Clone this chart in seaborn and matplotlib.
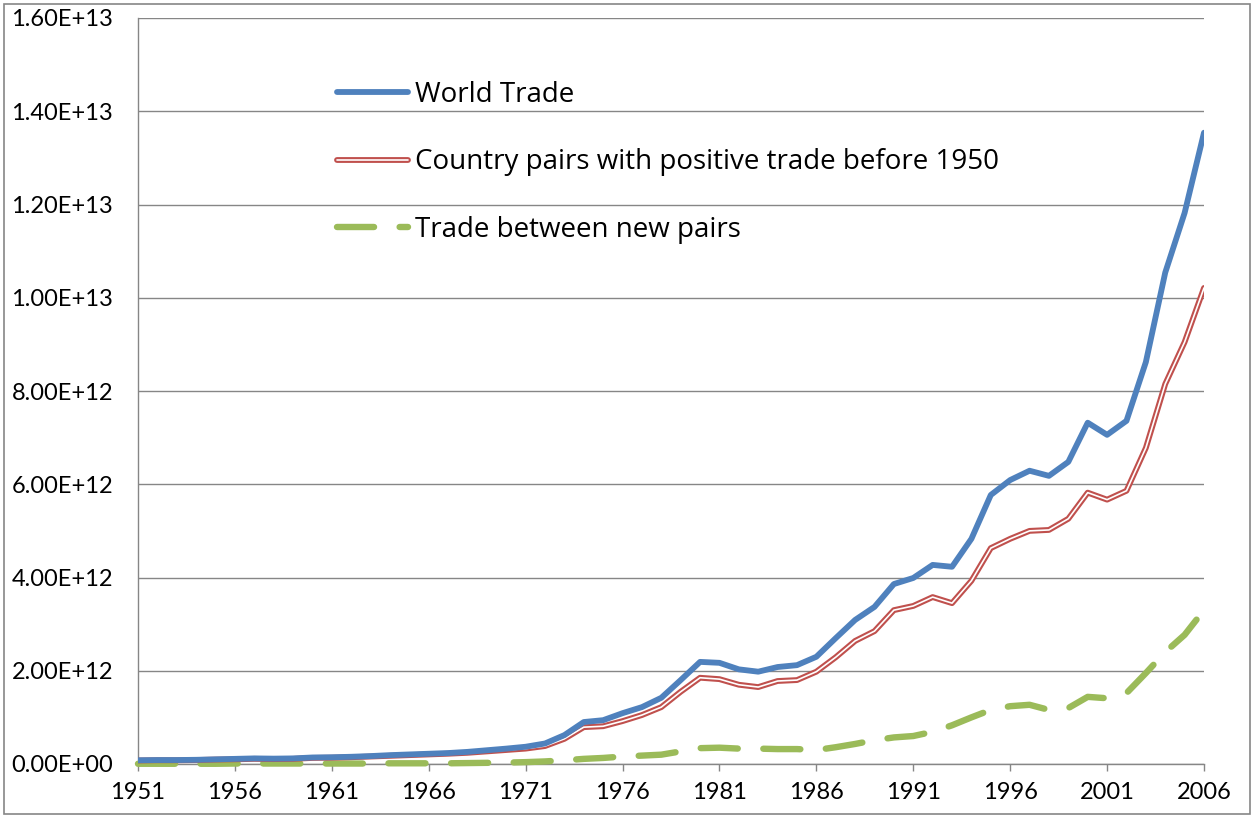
import numpy as np
import pandas as pd
import matplotlib.pyplot as plt
import matplotlib.patheffects as pe
from matplotlib.patches import Rectangle
import seaborn as sns

# Data (values in units of 1E12)
years = list(range(1951, 2007))
world_trade = [0.08, 0.085, 0.085, 0.09, 0.10, 0.11, 0.12, 0.115, 0.12, 0.14,
               0.145, 0.155, 0.17, 0.19, 0.205, 0.22, 0.235, 0.26, 0.295, 0.33,
               0.37, 0.44, 0.62, 0.90, 0.94, 1.09, 1.22, 1.42, 1.80, 2.19,
               2.17, 2.03, 1.98, 2.08, 2.12, 2.30, 2.70, 3.09, 3.37, 3.86,
               3.99, 4.27, 4.23, 4.83, 5.77, 6.09, 6.29, 6.18, 6.48, 7.32,
               7.06, 7.36, 8.62, 10.54, 11.82, 13.54]
old_pairs = [0.075, 0.08, 0.08, 0.085, 0.095, 0.10, 0.11, 0.105, 0.11, 0.13,
             0.135, 0.145, 0.16, 0.175, 0.19, 0.205, 0.22, 0.24, 0.27, 0.30,
             0.33, 0.385, 0.54, 0.79, 0.81, 0.92, 1.05, 1.22, 1.55, 1.85,
             1.82, 1.70, 1.65, 1.78, 1.80, 1.98, 2.29, 2.64, 2.85, 3.30,
             3.39, 3.58, 3.45, 3.93, 4.63, 4.83, 5.00, 5.02, 5.26, 5.82,
             5.67, 5.86, 6.78, 8.15, 9.05, 10.21]
new_pairs = [0.005, 0.005, 0.005, 0.005, 0.005, 0.01, 0.01, 0.01, 0.01, 0.01,
             0.01, 0.01, 0.01, 0.015, 0.015, 0.015, 0.015, 0.02, 0.025, 0.03,
             0.04, 0.055, 0.08, 0.11, 0.13, 0.16, 0.18, 0.20, 0.27, 0.34,
             0.35, 0.33, 0.33, 0.32, 0.32, 0.30, 0.36, 0.43, 0.51, 0.57,
             0.60, 0.69, 0.83, 1.00, 1.16, 1.24, 1.27, 1.16, 1.20, 1.44,
             1.41, 1.52, 1.95, 2.40, 2.77, 3.30]
labels = ["World Trade", "Country pairs with positive trade before 1950",
          "Trade between new pairs"]

df = pd.DataFrame({"year": years,
                   "world": np.array(world_trade) * 1e12,
                   "old": np.array(old_pairs) * 1e12,
                   "new": np.array(new_pairs) * 1e12})

sns.set_style("white")
plt.rcParams['font.family'] = ['Lato', 'DejaVu Sans']

fig = plt.figure(figsize=(12.54, 8.18), dpi=100)
ax = fig.add_axes([138 / 1254, 1 - 764 / 818, (1204 - 138) / 1254, (764 - 18) / 818])

grid_c = '#868686'

# green dashed
sns.lineplot(data=df, x="year", y="new", ax=ax, color='#9BBB59', lw=4.6,
             label=labels[2], zorder=3, clip_on=False)
ax.lines[-1].set_dashes((5.8, 4.0))
ax.lines[-1].set_dash_capstyle('round')
# red double line
sns.lineplot(data=df, x="year", y="old", ax=ax, color='white', lw=1.2,
             label=labels[1], zorder=4,
             path_effects=[pe.Stroke(linewidth=4.2, foreground='#C0504D'), pe.Normal()])
# blue
sns.lineplot(data=df, x="year", y="world", ax=ax, color='#4F81BD', lw=4.2,
             label=labels[0], zorder=5)

ax.set_xlim(1951, 2006)
ax.set_ylim(0, 1.6e13)
ax.set_xticks(range(1951, 2007, 5))
ax.set_yticks(np.arange(0, 1.61e13, 2e12))
ax.set_yticklabels([f"{v:.2E}" for v in np.arange(0, 1.61e13, 2e12)])
ax.set_xlabel("")
ax.set_ylabel("")
ax.yaxis.grid(True, color=grid_c, lw=1.0)
ax.set_axisbelow(True)
for s in ['top', 'right']:
    ax.spines[s].set_visible(False)
for s in ['left', 'bottom']:
    ax.spines[s].set_color(grid_c)
    ax.spines[s].set_linewidth(1.0)
ax.tick_params(axis='both', labelsize=17, colors=grid_c, labelcolor='black',
               direction='out', width=1.0)
ax.tick_params(axis='y', length=6, pad=12)
ax.tick_params(axis='x', length=5, pad=8, bottom=True)

h, l = ax.get_legend_handles_labels()
order = [l.index(t) for t in labels]
ax.legend([h[i] for i in order], [l[i] for i in order], frameon=False,
          prop={'family': ['Open Sans', 'DejaVu Sans'], 'size': 20},
          labelcolor='black',
          handlelength=2.55, handletextpad=0.25, labelspacing=1.42,
          loc='upper left', bbox_to_anchor=(323 / 1254, 1 - 67 / 818),
          bbox_transform=fig.transFigure, borderpad=0)

fig.patches.append(Rectangle((4 / 1254, 4 / 818), 1246 / 1254, 810 / 818,
                             transform=fig.transFigure, fill=False,
                             edgecolor=grid_c, lw=1.2))

fig.savefig("out.png", dpi=100)
